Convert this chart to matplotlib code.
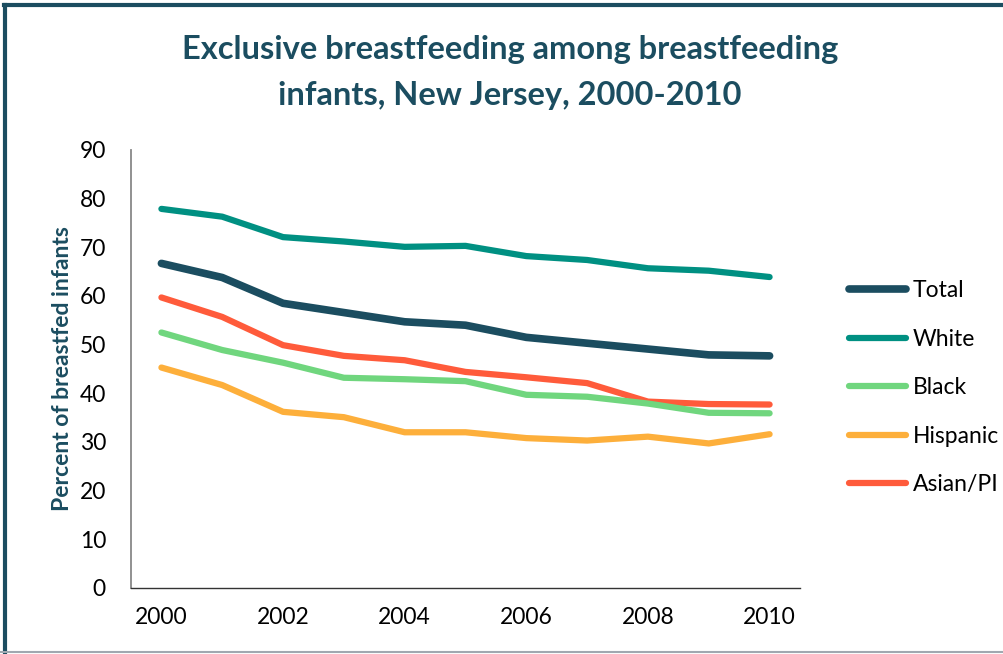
import matplotlib.pyplot as plt
from matplotlib.lines import Line2D

years = [2000, 2001, 2002, 2003, 2004, 2005, 2006, 2007, 2008, 2009, 2010]
total = [66.7, 63.8, 58.5, 56.6, 54.7, 54.0, 51.5, 50.3, 49.1, 47.9, 47.7]
white = [77.9, 76.3, 72.1, 71.2, 70.1, 70.3, 68.2, 67.4, 65.7, 65.2, 63.9]
black = [52.5, 48.9, 46.3, 43.2, 42.9, 42.5, 39.7, 39.3, 37.9, 36.0, 35.9]
hispanic = [45.3, 41.7, 36.2, 35.1, 32.0, 32.0, 30.8, 30.3, 31.1, 29.7, 31.6]
asian = [59.7, 55.7, 49.9, 47.7, 46.8, 44.4, 43.3, 42.1, 38.3, 37.8, 37.7]

series = [
    ('Total', total, '#1b4d60', 5.5),
    ('White', white, '#009082', 4.5),
    ('Black', black, '#70d67e', 4.5),
    ('Hispanic', hispanic, '#fdaf3b', 4.5),
    ('Asian/PI', asian, '#ff5b3b', 4.5),
]
draw_order = ['White', 'Total', 'Asian/PI', 'Black', 'Hispanic']
title_lines = ['Exclusive breastfeeding among breastfeeding',
               'infants, New Jersey, 2000-2010']

plt.rcParams['font.family'] = ['Lato', 'DejaVu Sans']

fig = plt.figure(figsize=(10.04, 6.54), dpi=100)
ax = fig.add_axes([131 / 1004, 1 - 588 / 654, (800 - 131) / 1004, (588 - 150) / 654])

for name in draw_order:
    for label, vals, color, lw in series:
        if label == name:
            ax.plot(years, vals, color=color, linewidth=lw, solid_capstyle='round',
                    solid_joinstyle='round')

ax.set_xlim(1999.5, 2010.5)
ax.set_ylim(0, 90)
ax.set_xticks(range(2000, 2011, 2))
ax.set_yticks(range(0, 91, 10))
ax.tick_params(length=0, labelsize=16.5, colors='black')
ax.tick_params(axis='x', pad=14)
ax.tick_params(axis='y', pad=18)
for s in ['top', 'right']:
    ax.spines[s].set_visible(False)
ax.spines['left'].set_color('#888888')
ax.spines['bottom'].set_color('#333333')
ax.spines['left'].set_linewidth(1.3)
ax.spines['bottom'].set_linewidth(1.0)

ax.set_ylabel('Percent of breastfed infants', fontsize=16.5, fontweight='bold',
              color='#1b4d60', labelpad=5)

# title, two centred lines
fig.text(0.508, 1 - 50 / 654, title_lines[0], ha='center', va='center',
         fontsize=23.5, fontweight='bold', color='#1b4d60')
fig.text(0.508, 1 - 95 / 654, title_lines[1], ha='center', va='center',
         fontsize=23.5, fontweight='bold', color='#1b4d60')

handles = [Line2D([0], [0], color=c, lw=lw, solid_capstyle='round') for _, _, c, lw in series]
labels = [l for l, _, _, _ in series]
fig.legend(handles, labels, loc='center left', bbox_to_anchor=(0.825, 0.407),
           frameon=False, fontsize=16.5, handlelength=2.5, handletextpad=0.3,
           labelspacing=1.2)

# frame around the figure
fig.add_artist(Line2D([0.004, 1.0], [0.993, 0.993], color='#1b4d60', lw=3,
                      transform=fig.transFigure))
fig.add_artist(Line2D([0.005, 0.005], [0.0, 0.993], color='#1b4d60', lw=3,
                      transform=fig.transFigure))
fig.add_artist(Line2D([0.0, 1.0], [0.003, 0.003], color='#a0a8b0', lw=1.5,
                      transform=fig.transFigure))

fig.savefig('out.png', dpi=100)
